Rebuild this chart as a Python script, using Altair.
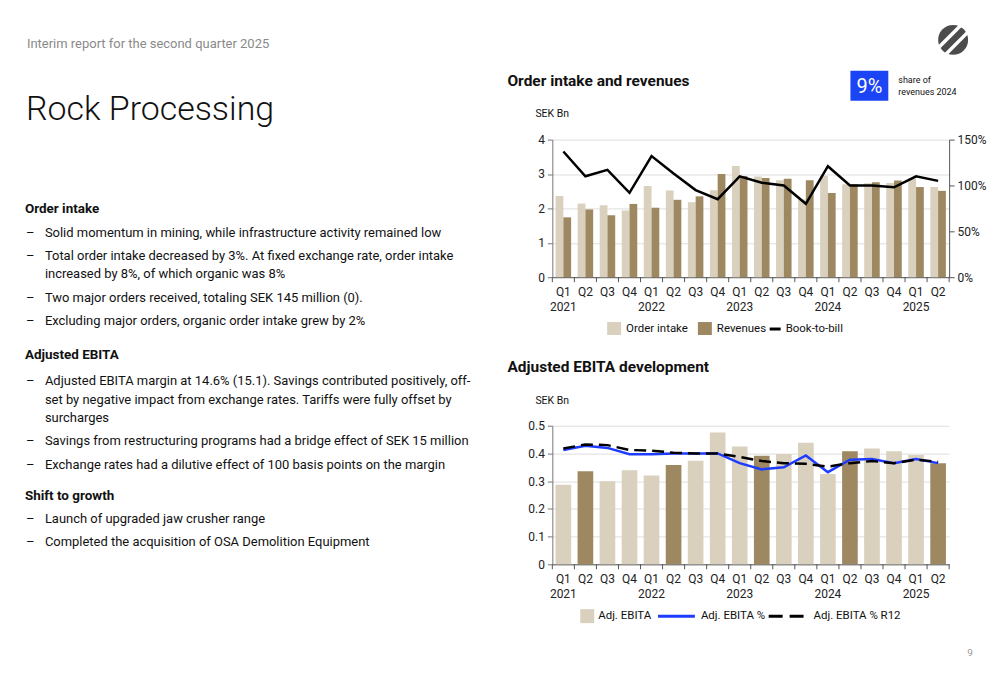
import altair as alt
import pandas as pd

FONT = "Roboto"
LIGHT = "#d9d0be"
DARK = "#9e8862"
BLUE = "#1e3cff"
BOXBLUE = "#1b44f5"
W = 398
STEP = W / 18.0

# ---------------- data ----------------
periods = ["Q1 2021", "Q2 2021", "Q3 2021", "Q4 2021",
           "Q1 2022", "Q2 2022", "Q3 2022", "Q4 2022",
           "Q1 2023", "Q2 2023", "Q3 2023", "Q4 2023",
           "Q1 2024", "Q2 2024", "Q3 2024", "Q4 2024",
           "Q1 2025", "Q2 2025"]
years = ["2021", "2022", "2023", "2024", "2025"]
order_intake = [2.36, 2.14, 2.09, 1.94, 2.65, 2.52, 2.18, 2.53, 3.23, 2.93, 2.82, 2.26,
                2.95, 2.70, 2.73, 2.74, 2.87, 2.62]
revenues = [1.74, 1.97, 1.80, 2.13, 2.02, 2.25, 2.35, 3.00, 2.94, 2.88, 2.86, 2.82,
            2.45, 2.70, 2.76, 2.81, 2.62, 2.51]
book_to_bill = [1.37, 1.10, 1.17, 0.92, 1.32, 1.13, 0.95, 0.85, 1.10, 1.03, 1.00, 0.80,
                1.21, 1.00, 1.00, 0.98, 1.10, 1.05]
adj_ebita = [0.287, 0.336, 0.300, 0.339, 0.320, 0.358, 0.374, 0.476, 0.425, 0.392, 0.398, 0.439,
             0.326, 0.408, 0.418, 0.408, 0.394, 0.365]
adj_ebita_pct = [0.165, 0.171, 0.168, 0.159, 0.159, 0.160, 0.160, 0.160, 0.146, 0.137, 0.140, 0.157,
                 0.133, 0.151, 0.152, 0.146, 0.152, 0.146]
adj_ebita_r12 = [0.167, 0.173, 0.172, 0.165, 0.164, 0.161, 0.160, 0.160, 0.155, 0.149, 0.146, 0.145,
                 0.141, 0.146, 0.149, 0.146, 0.151, 0.148]

series_names = ["Order intake", "Revenues"]

bars_top = pd.DataFrame(
    [{"period": p, "series": "Order intake", "value": v} for p, v in zip(periods, order_intake)]
    + [{"period": p, "series": "Revenues", "value": v} for p, v in zip(periods, revenues)]
)
line_top = pd.DataFrame({"period": periods, "btb": book_to_bill})
bottom_df = pd.DataFrame({"period": periods, "ebita": adj_ebita,
                          "pct": adj_ebita_pct, "r12": adj_ebita_r12})
year_df = pd.DataFrame({"period": ["Q1 " + y for y in years], "year": years})
period_df = pd.DataFrame({"period": periods})
one = pd.DataFrame({"a": [0]})

# ---------------- helpers ----------------
def txt(s, x, y, size=13, weight="normal", color="#111", align="left", baseline="middle"):
    return alt.Chart(one).mark_text(
        text=s, font=FONT, fontSize=size, fontWeight=weight, color=color,
        align=align, baseline=baseline
    ).encode(x=alt.value(x), y=alt.value(y))


def rect(x1, x2, y1, y2, color):
    return alt.Chart(one).mark_rect(color=color).encode(
        x=alt.value(x1), x2=alt.value(x2), y=alt.value(y1), y2=alt.value(y2))


def rule(x1, y1, x2, y2, color, width=1.0, dash=None):
    kw = dict(color=color, strokeWidth=width)
    if dash:
        kw["strokeDash"] = dash
    return alt.Chart(one).mark_rule(**kw).encode(
        x=alt.value(x1), y=alt.value(y1), x2=alt.value(x2), y2=alt.value(y2))


def x_enc(pi=0.0, po=0.0):
    return alt.X("period:N", sort=periods,
                 scale=alt.Scale(paddingInner=pi, paddingOuter=po),
                 axis=alt.Axis(title=None, labelAngle=0,
                               labelExpr="slice(datum.value, 0, 2)",
                               grid=False, tickSize=5, tickOpacity=0, labelPadding=4,
                               labelBaseline="top", domainColor="#555"))


def year_layer(h):
    return alt.Chart(year_df).mark_text(font=FONT, fontSize=12, color="#222", baseline="middle").encode(
        x=alt.X("period:N", sort=periods), y=alt.value(h + 30), text="year:N")


def tick_layers(h):
    # x-axis ticks at the boundaries between quarters
    t = alt.Chart(period_df).mark_rule(color="#555", strokeWidth=1, xOffset=-STEP / 2).encode(
        x=alt.X("period:N", sort=periods), y=alt.value(h), y2=alt.value(h + 5))
    return [t, rule(W, h, W, h + 5, "#555")]

# ---------------- top chart (origin page 553,138) ----------------
OX, OY = 553, 138
bars1 = alt.Chart(bars_top).mark_bar().encode(
    x=x_enc(),
    xOffset=alt.XOffset("series:N", sort=series_names,
                        scale=alt.Scale(domain=series_names, paddingInner=0, paddingOuter=0.42)),
    y=alt.Y("value:Q", scale=alt.Scale(domain=[0, 4], nice=False),
            axis=alt.Axis(title=None, values=[0, 1, 2, 3, 4], grid=True, tickSize=5,
                          labelPadding=3, domainColor="#777", tickColor="#777")),
    color=alt.Color("series:N", scale=alt.Scale(domain=series_names, range=[LIGHT, DARK]), legend=None),
)
line1 = alt.Chart(line_top).mark_line(color="black", strokeWidth=2.5).encode(
    x=x_enc(),
    y=alt.Y("btb:Q", scale=alt.Scale(domain=[0, 1.5], nice=False),
            axis=alt.Axis(title=None, orient="right", format=".0%", values=[0, 0.5, 1, 1.5],
                          grid=False, tickSize=5, labelPadding=3, domainColor="#555", tickColor="#555")),
)

T = []
def tt(s, x, y, **kw):
    T.append(txt(s, x - OX, y - OY, **kw))

# bounds anchor (white on white): top-left of content = page (13, 13)
T.append(rule(13 - OX, 13 - OY, 13 - OX, 345 - OY, "white", 1))
tt("Interim report for the second quarter 2025", 26, 46, size=13, color="#8a8a8a", baseline="alphabetic")
tt("Rock Processing", 25, 118, size=34, weight=300, color="#111", baseline="alphabetic")

upper_lines = [
    ("h", "Order intake", 208),
    ("b", "Solid momentum in mining, while infrastructure activity remained low", 232),
    ("b", "Total order intake decreased by 3%. At fixed exchange rate, order intake", 255),
    ("c", "increased by 8%, of which organic was 8%", 273),
    ("b", "Two major orders received, totaling SEK 145 million (0).", 297),
    ("b", "Excluding major orders, organic order intake grew by 2%", 320),
]
lower_lines = [
    ("h", "Adjusted EBITA", 352),
    ("b", "Adjusted EBITA margin at 14.6% (15.1). Savings contributed positively, off-", 378),
    ("c", "set by negative impact from exchange rates. Tariffs were fully offset by", 397),
    ("c", "surcharges", 415),
    ("b", "Savings from restructuring programs had a bridge effect of SEK 15 million", 438),
    ("b", "Exchange rates had a dilutive effect of 100 basis points on the margin", 462),
    ("h", "Shift to growth", 493),
    ("b", "Launch of upgraded jaw crusher range", 517),
    ("b", "Completed the acquisition of OSA Demolition Equipment", 540),
]


def add_lines(adder, lines):
    for kind, s, y in lines:
        if kind == "h":
            adder(s, 24, y, size=13.5, weight="bold")
        else:
            if kind == "b":
                adder("\u2013", 25, y, size=13)
            adder(s, 44, y, size=13)


add_lines(tt, upper_lines)

tt("Order intake and revenues", 508, 79, size=15.5, weight="bold")
tt("SEK Bn", 536, 112, size=10.5)
T.append(rect(852 - OX, 890 - OX, 69 - OY, 99 - OY, BOXBLUE))
tt("9%", 871, 85, size=20, color="white", align="center")
tt("share of", 900, 78, size=9)
tt("revenues 2024", 900, 90, size=9)
# logo
T.append(alt.Chart(one).mark_point(filled=True, shape="circle", size=900, color="black")
         .encode(x=alt.value(955 - OX), y=alt.value(38 - OY)))
T.append(rule(387.2, -92.2, 409.8, -114.8, "white", 3.5))
T.append(rule(394.2, -85.2, 416.8, -107.8, "white", 3.5))
# legend
T.append(rect(608 - OX, 622 - OX, 321 - OY, 334 - OY, LIGHT))
tt("Order intake", 627, 328, size=11.5)
T.append(rect(699 - OX, 713 - OX, 321 - OY, 334 - OY, DARK))
tt("Revenues", 718, 328, size=11.5)
T.append(rule(771 - OX, 328 - OY, 782 - OX, 328 - OY, "black", 3))
tt("Book-to-bill", 787, 328, size=11.5)

top = alt.layer(bars1, line1, year_layer(138), *tick_layers(138), *T).resolve_scale(
    y="independent").properties(width=W, height=138)

# ---------------- bottom chart (origin page 553,423) ----------------
BX, BY = 553, 423
bars2 = alt.Chart(bottom_df).mark_bar().encode(
    x=x_enc(0.29, 0.145),
    y=alt.Y("ebita:Q", scale=alt.Scale(domain=[0, 0.5], nice=False),
            axis=alt.Axis(title=None, values=[0, 0.1, 0.2, 0.3, 0.4, 0.5], grid=True, tickSize=5,
                          labelPadding=3, domainColor="#777", tickColor="#777",
                          labelExpr="datum.value == 0 ? '0' : format(datum.value, '.1f')")),
    color=alt.condition("slice(datum.period, 0, 2) == 'Q2'", alt.value(DARK), alt.value(LIGHT)),
)
pct_axis = alt.Axis(title=None, orient="right", format=".0%", values=[0, 0.05, 0.10, 0.15, 0.20],
                    grid=False, tickSize=5, labelPadding=3, domainColor="#555", tickColor="#555")
pct_scale = alt.Scale(domain=[0, 0.2], nice=False)
line_pct = alt.Chart(bottom_df).mark_line(color=BLUE, strokeWidth=2.5).encode(
    x=x_enc(0.29, 0.145), y=alt.Y("pct:Q", scale=pct_scale, axis=pct_axis))
line_r12 = alt.Chart(bottom_df).mark_line(color="black", strokeWidth=2.5, strokeDash=[12, 6]).encode(
    x=x_enc(0.29, 0.145), y=alt.Y("r12:Q", scale=pct_scale, axis=None))

B = []
def bt(s, x, y, **kw):
    B.append(txt(s, x - BX, y - BY, **kw))

B.append(rule(13 - BX, 345 - BY, 13 - BX, 640 - BY, "white", 1))
add_lines(bt, lower_lines)
bt("Adjusted EBITA development", 508, 364, size=15.5, weight="bold")
bt("SEK Bn", 536, 398, size=10.5)
B.append(rect(581 - BX, 595 - BX, 607 - BY, 621 - BY, LIGHT))
bt("Adj. EBITA", 599, 614, size=11.5)
B.append(rule(659 - BX, 614 - BY, 696 - BX, 614 - BY, BLUE, 3))
bt("Adj. EBITA %", 702, 614, size=11.5)
B.append(rule(770 - BX, 614 - BY, 805 - BX, 614 - BY, "black", 3, dash=[14, 7]))
bt("Adj. EBITA % R12", 815, 614, size=11.5)
bt("9", 972, 651, size=10, color="#999", align="center")

bottom = alt.layer(bars2, alt.layer(line_pct, line_r12), year_layer(139), *tick_layers(139), *B).resolve_scale(
    y="independent").properties(width=W, height=139)

chart = alt.vconcat(top, bottom, spacing=0).configure_view(stroke=None).configure_axis(
    labelFont=FONT, labelFontSize=12, labelColor="#222", gridColor="#dedede", titleFont=FONT
)

chart.save("out.html", embed_options={"renderer": "svg", "actions": False})
